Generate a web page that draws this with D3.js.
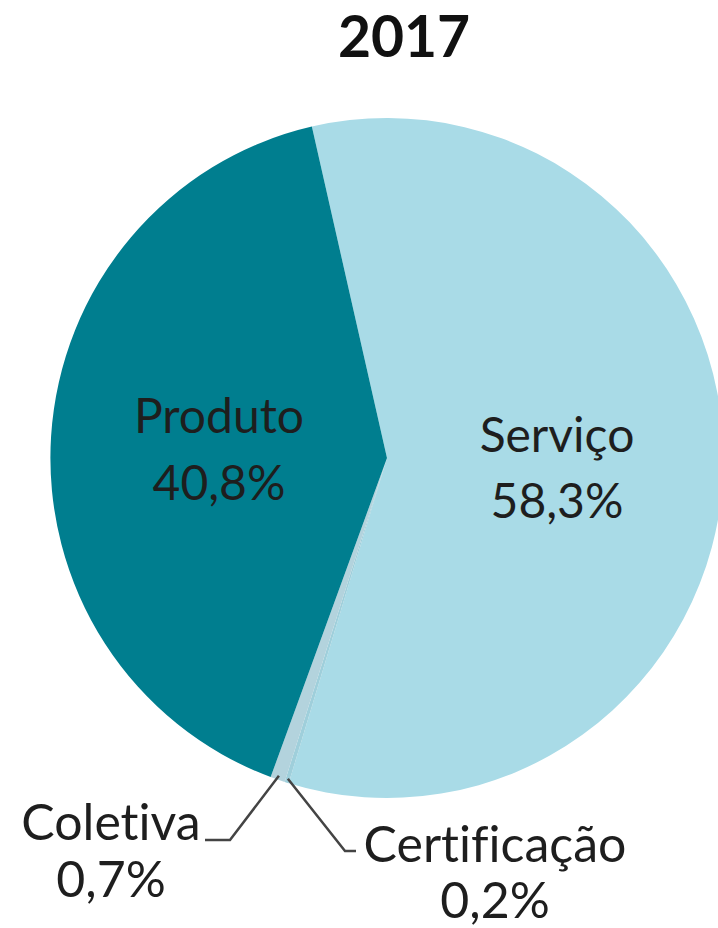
<!DOCTYPE html>
<html><head><meta charset="utf-8">
<script src="https://cdn.jsdelivr.net/npm/d3@7"></script>
<style>html,body{margin:0;padding:0;background:#fff;}svg{display:block;}text{font-variant-ligatures:none;}</style>
</head><body>
<svg id="chart" width="718" height="928"></svg>
<script>
const title = "2017";
const categories = ["Serviço", "Certificação", "Coletiva", "Produto"];
const values = [58.3, 0.2, 0.7, 40.8];
const labels = ["58,3%", "0,2%", "0,7%", "40,8%"];
const colors = ["#a9dbe7", "#9fcfdb", "#b3d3dd", "#007e8f"];

const svg = d3.select("#chart");
const cx = 387, cy = 458, R = 340;
const font = "Lato, 'Open Sans', sans-serif";
const ink = "#1e1e1e";

svg.append("text").attr("x", 404).attr("y", 57).attr("text-anchor", "middle")
  .attr("font-family", font).attr("font-weight", 700).attr("font-size", 57)
  .attr("fill", "#111").text(title);

const a0 = -12.9 * Math.PI / 180;
const pie = d3.pie().sort(null).startAngle(a0).endAngle(a0 + 2 * Math.PI);
const arcs = pie(values);
const arc = d3.arc().innerRadius(0).outerRadius(R);

const g = svg.append("g").attr("transform", `translate(${cx},${cy}) scale(0.99,1)`);
g.selectAll("path").data(arcs).join("path")
  .attr("d", arc).attr("fill", (d, i) => colors[i]);

// inside labels
const inside = [
  {i: 0, x: 557, y1: 452, y2: 518},
  {i: 3, x: 219, y1: 433, y2: 500}
];
inside.forEach(o => {
  [[categories[o.i], o.y1], [labels[o.i], o.y2]].forEach(([t, y]) => {
    svg.append("text").attr("x", o.x).attr("y", y).attr("text-anchor", "middle")
      .attr("font-family", font).attr("font-size", 48).attr("fill", ink).text(t);
  });
});

// outside labels with leader lines
const outer = d3.arc().innerRadius(R - 4).outerRadius(R - 4);
const ext = [
  {i: 2, pts: [[230, 840], [205, 840]], tx: 111, ty1: 840, ty2: 897},
  {i: 1, pts: [[345, 851], [356, 851]], tx: 495, ty1: 862, ty2: 918}
];
ext.forEach(o => {
  const c = outer.centroid(arcs[o.i]);
  const start = [cx + c[0] * 0.99, cy + c[1]];
  svg.append("path").attr("d", d3.line()([start, ...o.pts]))
    .attr("fill", "none").attr("stroke", "#444").attr("stroke-width", 2.5);
  [[categories[o.i], o.ty1], [labels[o.i], o.ty2]].forEach(([t, y]) => {
    svg.append("text").attr("x", o.tx).attr("y", y).attr("text-anchor", "middle")
      .attr("font-family", font).attr("font-size", 50).attr("fill", ink).text(t);
  });
});
</script>
</body></html>
